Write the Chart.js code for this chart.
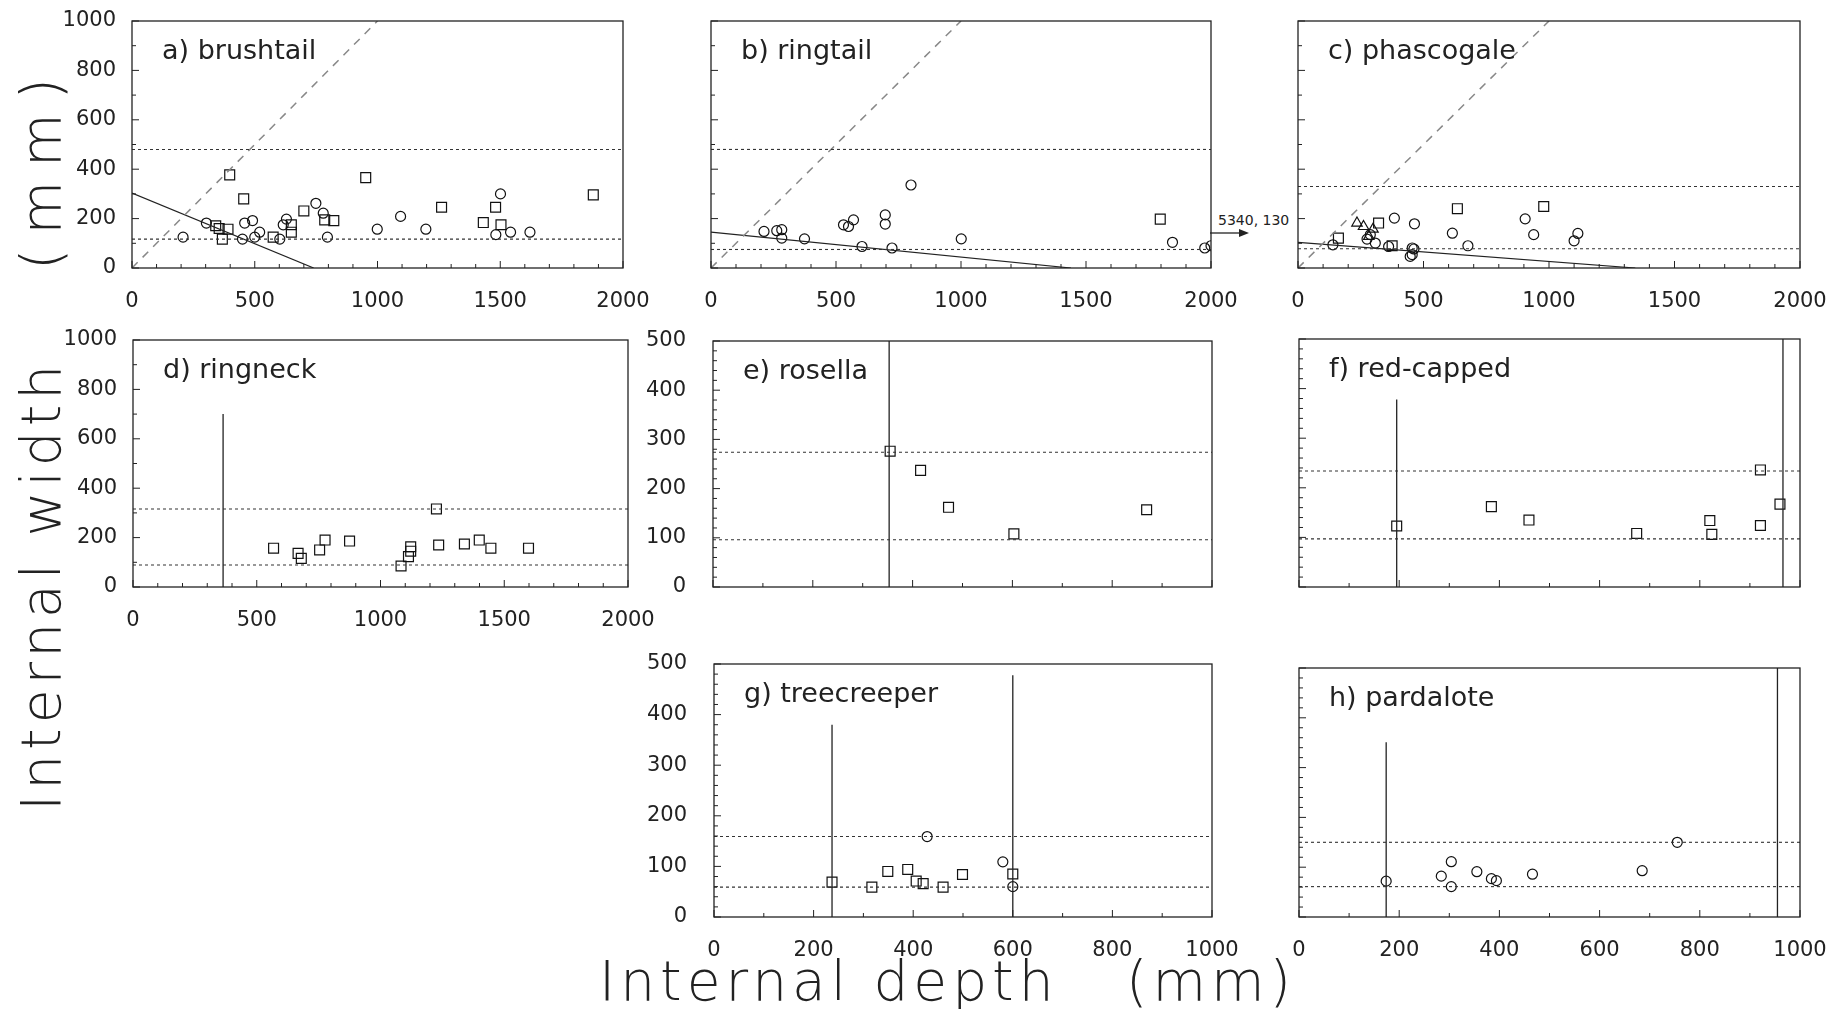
<!DOCTYPE html>
<html>
<head>
<meta charset="utf-8">
<script src="https://cdn.jsdelivr.net/npm/chart.js@4.4.0/dist/chart.umd.min.js"></script>
<style>
  body { margin: 0; background: #fff; width: 1841px; height: 1009px; overflow: hidden; position: relative; }
  .panel { position: absolute; }
  .axis-title { position: absolute; font-family: "DejaVu Sans"; font-weight: 200; font-size: 55px; line-height: 55px; letter-spacing: 5px; white-space: pre; color: #222; }
  .note { position: absolute; font-family: "DejaVu Sans"; font-size: 14px; line-height: 14px; color: #222; white-space: pre; }
</style>
</head>
<body>
<div class="axis-title" style="left:14px; top:811px; transform-origin:0 0; transform:rotate(-90deg);">Internal width    <span style="letter-spacing:14px">(mm)</span></div>
<div class="axis-title" style="left:599px; top:954px;">Internal depth   (mm)</div>
<div class="note" style="left:1218px; top:213px;">5340, 130</div>
<svg style="position:absolute; left:1205px; top:225px;" width="50" height="16">
  <line x1="5" y1="8" x2="36" y2="8" stroke="#222" stroke-width="1.3"/>
  <polygon points="44,8 34,4 34,12" fill="#222"/>
</svg>

<script>
// ---- data (depth mm, width mm) ----

// a) brushtail
const aCircles = [[208,125],[303,182],[450,117],[459,182],[491,192],[500,125],[520,145],[602,117],[629,198],[616,175],
  [749,262],[779,222],[796,125],[999,157],[1094,209],[1197,157],[1482,135],[1501,300],[1542,145],[1621,145]];
const aSquares = [[341,171],[355,160],[368,117],[391,157],[398,377],[455,280],[575,125],[649,175],[649,145],[700,231],
  [785,195],[822,192],[952,366],[1261,246],[1431,184],[1481,246],[1503,175],[1879,296]];
const aFit = [[0,303],[740,0]];
const aLimits = [480,117];

// b) ringtail
const bCircles = [[212,148],[263,151],[283,155],[283,121],[374,118],[530,175],[550,168],[570,195],[604,87],[697,215],
  [697,178],[724,81],[800,336],[1001,118],[1846,104],[1975,81],[2000,90]];
const bSquares = [[1797,198]];
const bFit = [[0,145],[1440,0]];
const bLimits = [480,75];

// c) phascogale
const cCircles = [[139,94],[384,202],[464,179],[615,141],[677,90],[905,199],[939,135],[275,117],[288,135],[308,101],
  [361,87],[455,81],[455,54],[462,77],[447,47],[1115,140],[1100,110]];
const cSquares = [[161,121],[321,182],[375,90],[635,240],[979,249]];
const cTriangles = [[235,182],[261,168],[299,157],[282,128]];
const cFit = [[0,104],[1344,0]];
const cLimits = [330,78];

// width = depth reference line (a, b, c)
const equalLine = [[0,0],[1000,1000]];

// d) ringneck
const dSquares = [[568,157],[667,136],[680,116],[754,150],[776,190],[875,186],[1083,85],[1113,123],[1122,163],[1122,145],
  [1226,316],[1235,170],[1339,174],[1399,190],[1446,157],[1598,157]];
const dVerticals = [[364,700]];
const dLimits = [316,89];

// e) rosella
const eSquares = [[355,276],[416,237],[472,162],[603,108],[869,157]];
const eVerticals = [[353,500]];
const eLimits = [274,96];

// f) red-capped
const fSquares = [[195,123],[384,162],[459,135],[674,108],[820,134],[824,106],[921,236],[921,124],[960,167]];
const fVerticals = [[195,378],[966,500]];
const fLimits = [234,97];

// g) treecreeper
const gSquares = [[237,69],[317,59],[349,90],[389,94],[406,71],[420,66],[460,59],[499,84],[600,85]];
const gCircles = [[428,159],[580,109],[600,60]];
const gVerticals = [[237,380],[600,478]];
const gLimits = [159,59];

// h) pardalote
const hCircles = [[174,72],[284,82],[304,111],[304,61],[355,91],[384,77],[394,73],[466,86],[685,93],[755,150]];
const hVerticals = [[174,351],[955,500]];
const hLimits = [150,61];

const bigTicks = { xMax: 2000, yMax: 1000, xStep: 500, yStep: 200, xMinor: 100, xMajor: 500, yMinor: 100, yMajor: 200 };
const smallTicks = { xMax: 1000, yMax: 500, xStep: 200, yStep: 100, xMinor: 100, xMajor: 200, yMinor: 20, yMajor: 100 };

const panels = [
  { title: 'a) brushtail', box: [132, 21, 623, 268], ax: bigTicks, xLabels: true, yLabels: true, yPad: 8,
    circles: aCircles, squares: aSquares, fit: aFit, diag: equalLine, limits: aLimits },
  { title: 'b) ringtail', box: [711, 21, 1211, 268], ax: bigTicks, xLabels: true, yLabels: false,
    circles: bCircles, squares: bSquares, fit: bFit, diag: equalLine, limits: bLimits },
  { title: 'c) phascogale', box: [1298, 21, 1800, 268], ax: bigTicks, xLabels: true, yLabels: false,
    circles: cCircles, squares: cSquares, triangles: cTriangles, fit: cFit, diag: equalLine, limits: cLimits },
  { title: 'd) ringneck', box: [133, 340, 628, 587], ax: bigTicks, xLabels: true, yLabels: true, yPad: 8,
    squares: dSquares, verticals: dVerticals, limits: dLimits },
  { title: 'e) rosella', box: [713, 341, 1212, 587], ax: smallTicks, xLabels: false, yLabels: true, yPad: 19,
    squares: eSquares, verticals: eVerticals, limits: eLimits },
  { title: 'f) red-capped', box: [1299, 339, 1800, 587], ax: smallTicks, xLabels: false, yLabels: false,
    squares: fSquares, verticals: fVerticals, limits: fLimits },
  { title: 'g) treecreeper', box: [714, 664, 1212, 917], ax: smallTicks, xLabels: true, yLabels: true, yPad: 19,
    circles: gCircles, squares: gSquares, verticals: gVerticals, limits: gLimits },
  { title: 'h) pardalote', box: [1299, 668, 1800, 917], ax: smallTicks, xLabels: true, yLabels: false,
    circles: hCircles, verticals: hVerticals, limits: hLimits }
];

const toXY = arr => arr.map(p => ({ x: p[0], y: p[1] }));

// frame, inward tick marks and panel title
const framePlugin = {
  id: 'frame',
  afterDraw(chart) {
    const { ctx, chartArea: ca, scales } = chart;
    const o = chart.options.plugins.frame;
    ctx.save();
    ctx.strokeStyle = '#222';
    ctx.lineWidth = 1.3;
    ctx.strokeRect(ca.left, ca.top, ca.right - ca.left, ca.bottom - ca.top);
    ctx.lineWidth = 1;
    ctx.beginPath();
    for (let v = 0; v <= scales.x.max; v += o.ax.xMinor) {
      const px = scales.x.getPixelForValue(v);
      const len = v % o.ax.xMajor === 0 ? 7 : 4;
      ctx.moveTo(px, ca.bottom);
      ctx.lineTo(px, ca.bottom - len);
    }
    for (let v = 0; v <= scales.y.max; v += o.ax.yMinor) {
      const py = scales.y.getPixelForValue(v);
      const len = v % o.ax.yMajor === 0 ? 7 : 4;
      ctx.moveTo(ca.left, py);
      ctx.lineTo(ca.left + len, py);
    }
    ctx.stroke();
    ctx.fillStyle = '#222';
    ctx.font = '27px "DejaVu Sans"';
    ctx.textBaseline = 'alphabetic';
    ctx.fillText(o.title, ca.left + 30, ca.top + 38);
    ctx.restore();
  }
};

const PAD_L = 75, PAD_T = 15, PAD_R = 40, PAD_B = 50;
const tickFont = { family: 'DejaVu Sans', size: 21 };

panels.forEach(p => {
  const [l, t, r, b] = p.box;
  const w = r - l + PAD_L + PAD_R, h = b - t + PAD_T + PAD_B;
  const div = document.createElement('div');
  div.className = 'panel';
  div.style.left = (l - PAD_L) + 'px';
  div.style.top = (t - PAD_T) + 'px';
  const canvas = document.createElement('canvas');
  canvas.width = w; canvas.height = h;
  canvas.style.width = w + 'px'; canvas.style.height = h + 'px';
  div.appendChild(canvas);
  document.body.appendChild(div);

  const lineSet = (data, extra) => Object.assign({ data, showLine: true, pointRadius: 0, borderColor: '#222', borderWidth: 1.2, fill: false }, extra);
  const datasets = [];
  (p.limits || []).forEach(y => datasets.push(lineSet([{ x: 0, y }, { x: p.ax.xMax, y }], { borderDash: [3, 3], borderColor: '#333', borderWidth: 1.1 })));
  if (p.diag) datasets.push(lineSet(toXY(p.diag), { borderDash: [8, 7], borderColor: '#888', borderWidth: 1.5 }));
  if (p.fit) datasets.push(lineSet(toXY(p.fit), { borderColor: '#222', borderWidth: 1.2 }));
  (p.verticals || []).forEach(v => datasets.push(lineSet([{ x: v[0], y: 0 }, { x: v[0], y: v[1] }], { borderColor: '#222', borderWidth: 1.3 })));
  const markers = (data, style, radius) => ({ data: toXY(data), showLine: false, pointStyle: style, pointRadius: radius,
    pointBorderColor: '#111', pointBackgroundColor: 'rgba(0,0,0,0)', pointBorderWidth: 1.2 });
  if (p.circles) datasets.push(markers(p.circles, 'circle', 5));
  if (p.squares) datasets.push(markers(p.squares, 'rect', 7));
  if (p.triangles) datasets.push(markers(p.triangles, 'triangle', 6));

  new Chart(canvas, {
    type: 'scatter',
    data: { datasets },
    options: {
      responsive: false,
      animation: false,
      devicePixelRatio: 1,
      layout: { padding: { left: 0, top: PAD_T, right: PAD_R, bottom: 0 }, autoPadding: false },
      plugins: { legend: { display: false }, tooltip: { enabled: false }, frame: { title: p.title, ax: p.ax } },
      scales: {
        x: {
          type: 'linear', min: 0, max: p.ax.xMax,
          grid: { display: false }, border: { display: false },
          ticks: { display: p.xLabels, stepSize: p.ax.xStep, includeBounds: false, padding: 13, color: '#222', font: tickFont,
            maxRotation: 0, autoSkip: false, callback: v => String(v) },
          afterFit(s) { s.height = PAD_B; s.paddingLeft = 0; s.paddingRight = 0; }
        },
        y: {
          type: 'linear', min: 0, max: p.ax.yMax,
          grid: { display: false }, border: { display: false },
          ticks: { display: p.yLabels, stepSize: p.ax.yStep, includeBounds: false, padding: p.yPad || 8, color: '#222', font: tickFont,
            autoSkip: false, callback: v => String(v) },
          afterFit(s) { s.width = PAD_L; s.paddingTop = 0; s.paddingBottom = 0; }
        }
      }
    },
    plugins: [framePlugin]
  });
});
</script>
</body>
</html>
